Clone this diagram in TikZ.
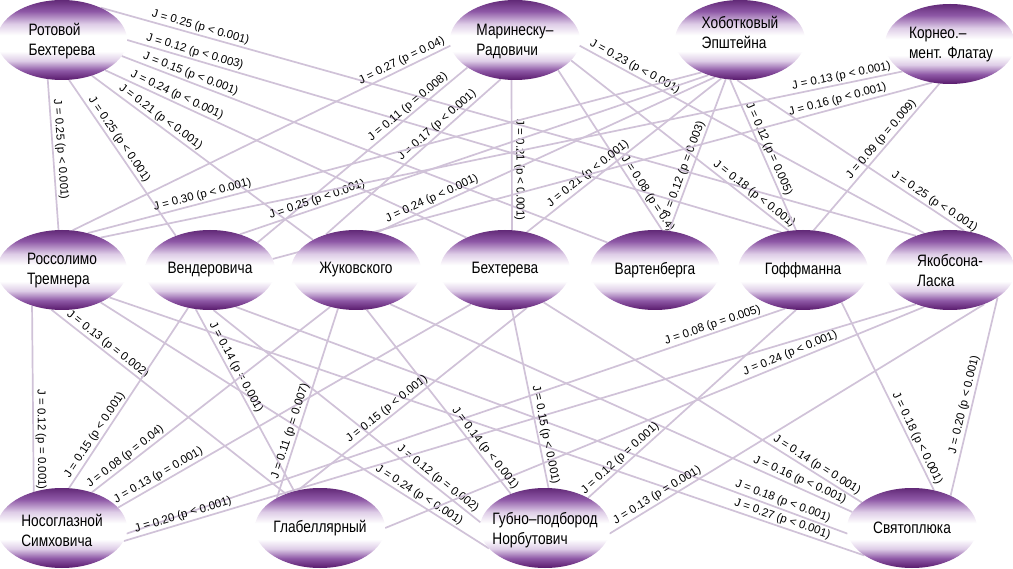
\documentclass[tikz,border=0pt]{standalone}
\usepackage{fontspec}
\setmainfont{Liberation Sans}
\newfontfamily\nodefont[FakeStretch=0.83]{Liberation Sans}
\usetikzlibrary{shapes.geometric}
\pgfdeclarelayer{bg}
\pgfsetlayers{bg,main}
\definecolor{pdark}{RGB}{88,26,108}
\definecolor{ptop}{RGB}{98,42,120}
\definecolor{pmid}{RGB}{142,88,166}
\definecolor{plite}{RGB}{222,205,231}
\definecolor{edgec}{RGB}{208,194,216}
\pgfdeclareverticalshading{ellshade}{100bp}{color(0bp)=(pdark); color(25bp)=(pdark); color(31bp)=(pmid); color(37bp)=(plite); color(43bp)=(white); color(53bp)=(white); color(60bp)=(plite); color(68bp)=(pmid); color(75bp)=(ptop); color(100bp)=(ptop)}
\begin{document}
\begin{tikzpicture}[x=1pt,y=-1pt,
  ell/.style={ellipse, minimum width=130pt, minimum height=80pt, inner sep=0pt, shade, shading=ellshade},
  txt/.style={font=\nodefont\fontsize{16.5}{20}\selectfont, align=left, inner sep=0pt, text=black},
  jline/.style={draw=edgec, line width=1.7pt},
  lab/.style={font=\fontsize{11.5}{13}\selectfont, sloped, above, inner sep=1.5pt, text=black}]
\useasboundingbox (0,0) rectangle (1013,569);
% nodes
\node[ell] (R) at (62,40) {};
\node[ell] (M) at (515,40) {};
\node[ell] (H) at (740,40) {};
\node[ell] (K) at (950,44) {};
\node[ell] (Ros) at (62,270) {};
\node[ell] (V) at (210,270) {};
\node[ell] (Zh) at (356,270) {};
\node[ell] (B) at (505,270) {};
\node[ell] (Va) at (655,270) {};
\node[ell] (Go) at (803,270) {};
\node[ell] (Ya) at (950,270) {};
\node[ell] (N) at (62,528) {};
\node[ell] (G) at (320,528) {};
\node[ell] (Gu) at (545,528) {};
\node[ell] (S) at (912,528) {};
\node[txt] (Rt) at (62,41) {Ротовой\\Бехтерева};
\node[txt] (Mt) at (515,41) {Маринеску–\\Радовичи};
\node[txt] (Ht) at (740,32) {Хоботковый\\Эпштейна};
\node[txt] (Kt) at (951,45) {Корнео.–\\мент. Флатау};
\node[txt] (Rost) at (62,271) {Россолимо\\Тремнера};
\node[txt] (Vt) at (V) {Вендеровича};
\node[txt] (Zht) at (Zh) {Жуковского};
\node[txt] (Bt) at (B) {Бехтерева};
\node[txt] (Vat) at (Va) {Вартенберга};
\node[txt] (Got) at (Go) {Гоффманна};
\node[txt] (Yat) at (950,271) {Якобсона-\\Ласка};
\node[txt] (Nt) at (62,530) {Носоглазной\\Симховича};
\node[txt] (Gt) at (G) {Глабеллярный};
\node[txt] (Gut) at (545,530) {Губно–подбород\\Норбутович};
\node[txt] (St) at (S) {Святоплюка};
\begin{pgfonlayer}{bg}
\fill[white] (0,0) rectangle (1013,569);
% from Ротовой Бехтерева
\draw[jline] (R.40) -- node[lab,pos=.12]{J = 0.25 (p < 0.001)} (Ya.135);
\draw[jline] (R.0) -- node[lab,pos=.10]{J = 0.12 (p < 0.003)} (Go.120);
\draw[jline] (R.-15) -- node[lab,pos=.136]{J = 0.15 (p < 0.001)} (Va.150);
\draw[jline] (R.-35) -- node[lab,pos=.19]{J = 0.24 (p < 0.001)} (B.140);
\draw[jline] (R.-50) -- node[lab,pos=.29]{J = 0.21 (p < 0.001)} (Zh.145);
\draw[jline] (R.-80) -- node[lab,pos=.41]{J = 0.25 (p < 0.001)} (V.135);
\draw[jline] (R.-110) -- node[lab,pos=.47]{J = 0.25 (p < 0.001)} (Ros.95);
% from Маринеску-Радовичи
\draw[jline] (M.185) -- node[lab,pos=.12]{J = 0.27 (p = 0.04)} (Ros.75);
\draw[jline] (M.210) -- node[lab,pos=.26]{J = 0.11 (p = 0.008)} (V.30);
\draw[jline] (M.250) -- node[lab,pos=.335]{J = 0.17 (p < 0.001)} (Zh.130);
\draw[jline] (M.265) -- node[lab,pos=.6]{J = 0.21 (p < 0.001)} (B.80);
\draw[jline] (M.-35) -- node[lab,pos=.80]{J = 0.08 (p = 0.4)} (Va.80);
\draw[jline] (M.-20) -- node[lab,pos=.82]{J = 0.18 (p < 0.001)} (Go.110);
\draw[jline] (M.-5) -- node[lab,pos=.15]{J = 0.23 (p < 0.001)} (Ya.125);
% from Хоботковый Эпштейна
\draw[jline] (H.220) -- node[lab,pos=.81]{J = 0.30 (p < 0.001)} (Ros.55);
\draw[jline] (H.228) -- node[lab,pos=.83]{J = 0.25 (p < 0.001)} (V.50);
\draw[jline] (H.236) -- node[lab,pos=.83]{J = 0.24 (p < 0.001)} (Zh.60);
\draw[jline] (H.244) -- node[lab,pos=.66]{J = 0.21 (p < 0.001)} (B.60);
\draw[jline] (H.250) -- node[lab,pos=.61]{J = 0.12 (p = 0.003)} (Va.70);
\draw[jline] (H.256) -- node[lab,pos=.48]{J = 0.12 (p = 0.005)} (Go.100);
\draw[jline] (H.266) -- node[lab,pos=.85]{J = 0.25 (p < 0.001)} (Ya.70);
% from Корнео
\draw[jline] (K.210) -- node[lab,pos=.074]{J = 0.13 (p < 0.001)} (Ros.40);
\draw[jline] (K.245) -- node[lab,pos=.14]{J = 0.16 (p < 0.001)} (V.10);
\draw[jline] (K.255) -- node[lab,pos=.415]{J = 0.09 (p = 0.009)} (Go.75);
% middle to bottom
\draw[jline] (Ros.230) -- node[lab,pos=.72]{J = 0.12 (p = 0.001)} (N.128);
\draw[jline] (Ros.-105) -- node[lab,pos=.22]{J = 0.13 (p = 0.002)} (G.135);
\draw[jline] (Ros.-40) -- node[lab,pos=.81]{J = 0.24 (p < 0.001)} (Gu.-160);
\draw[jline] (Ros.-30) -- node[lab,pos=.888]{J = 0.27 (p < 0.001)} (S.210);
\draw[jline] (N.80) -- node[lab,pos=.27]{J = 0.15 (p < 0.001)} (V.-120);
\draw[jline] (V.-110) -- node[lab,pos=.34]{J = 0.14 (p = 0.001)} (G.125);
\draw[jline] (V.-85) -- node[lab,pos=.823]{J = 0.12 (p = 0.002)} (Gu.175);
\draw[jline] (V.-55) -- node[lab,pos=.89]{J = 0.18 (p < 0.001)} (S.185);
\draw[jline] (Zh.-45) -- node[lab,pos=.88]{J = 0.16 (p < 0.001)} (S.165);
\draw[jline] (B.-40) -- node[lab,pos=.846]{J = 0.14 (p = 0.001)} (S.153);
\draw[jline] (N.50) -- node[lab,pos=.16]{J = 0.08 (p = 0.04)} (Zh.-125);
\draw[jline] (N.20) -- node[lab,pos=.125]{J = 0.13 (p = 0.001)} (B.-135);
\draw[jline] (N.-5) -- node[lab,pos=.894]{J = 0.08 (p = 0.005)} (Go.-115);
\draw[jline] (N.-12) -- node[lab,pos=.078]{J = 0.20 (p < 0.001)} (Ya.-135);
\draw[jline] (G.145) -- node[lab,pos=.34]{J = 0.11 (p = 0.007)} (Zh.-115);
\draw[jline] (G.120) -- node[lab,pos=.41]{J = 0.15 (p < 0.001)} (B.-60);
\draw[jline] (G.0) -- node[lab,pos=.757]{J = 0.24 (p < 0.001)} (Ya.-125);
\draw[jline] (Zh.-75) -- node[lab,pos=.78]{J = 0.14 (p < 0.001)} (Gu.135);
\draw[jline] (B.-80) -- node[lab,pos=.71]{J = 0.15 (p < 0.001)} (Gu.85);
\draw[jline] (Gu.35) -- node[lab,pos=.18]{J = 0.12 (p = 0.001)} (Go.-100);
\draw[jline] (Gu.-5) -- node[lab,pos=.138]{J = 0.13 (p = 0.001)} (Ya.-45);
\draw[jline] (Go.-40) -- node[lab,pos=.743]{J = 0.18 (p < 0.001)} (S.60);
\draw[jline] (Ya.-30) -- node[lab,pos=.55]{J = 0.20 (p < 0.001)} (S.40);
\end{pgfonlayer}
\end{tikzpicture}
\end{document}
